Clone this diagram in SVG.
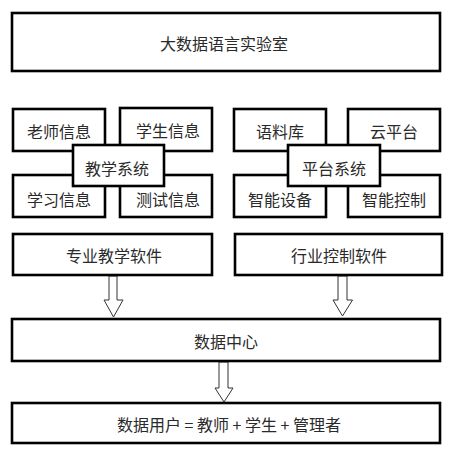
<svg xmlns="http://www.w3.org/2000/svg" width="460" height="453" viewBox="0 0 460 453">
<style>
.b{fill:#fff;stroke:#000;stroke-width:2.6}
.t{font-family:"Noto Sans CJK SC","Noto Sans",sans-serif;font-size:16px;fill:#2a2a2a;text-anchor:middle;dominant-baseline:central}
.a{fill:#fff;stroke:#333;stroke-width:1}
</style>
<rect width="460" height="453" fill="#fff"/>
<g id="lab"><rect class="b" x="12" y="13" width="428" height="58"/><text class="t" x="224" y="43">大数据语言实验室</text></g>
<g id="teacherInfo"><rect class="b" x="13" y="109" width="92" height="42"/><text class="t" x="59" y="131">老师信息</text></g>
<g id="studentInfo"><rect class="b" x="120" y="108" width="92" height="43"/><text class="t" x="168" y="130">学生信息</text></g>
<g id="studyInfo"><rect class="b" x="13" y="175" width="92" height="42"/><text class="t" x="59" y="199">学习信息</text></g>
<g id="testInfo"><rect class="b" x="120" y="175" width="92" height="42"/><text class="t" x="168" y="199">测试信息</text></g>
<g id="teachSys"><rect class="b" x="73" y="145" width="91" height="41"/><text class="t" x="117" y="168">教学系统</text></g>
<g id="corpus"><rect class="b" x="234" y="109" width="92" height="42"/><text class="t" x="280" y="131">语料库</text></g>
<g id="cloud"><rect class="b" x="348" y="109" width="92" height="42"/><text class="t" x="394" y="131">云平台</text></g>
<g id="device"><rect class="b" x="234" y="175" width="92" height="42"/><text class="t" x="280" y="199">智能设备</text></g>
<g id="control"><rect class="b" x="348" y="175" width="92" height="42"/><text class="t" x="394" y="199">智能控制</text></g>
<g id="platSys"><rect class="b" x="288" y="145" width="92" height="41"/><text class="t" x="334" y="168">平台系统</text></g>
<g id="connectors">
<polygon class="a" points="109,276 117,276 117,300 123,300 113.5,317 104,300 109,300"/>
<polygon class="a" points="338,276 347,276 347,300 352.5,300 342.5,316 333,300 338,300"/>
<polygon class="a" points="219,362 228,362 228,388 233,388 224,402 215,388 219,388"/>
</g>
<g id="teachSoft"><rect class="b" x="13" y="234" width="199" height="41"/><text class="t" x="114" y="255">专业教学软件</text></g>
<g id="indSoft"><rect class="b" x="235" y="234" width="207" height="41"/><text class="t" x="339" y="255">行业控制软件</text></g>
<g id="dataCenter"><rect class="b" x="12" y="319" width="428" height="42"/><text class="t" x="226" y="341">数据中心</text></g>
<g id="users"><rect class="b" x="12" y="403" width="428" height="40"/><text class="t" x="229" y="424">数据用户 = 教师 + 学生 + 管理者</text></g>
</svg>
